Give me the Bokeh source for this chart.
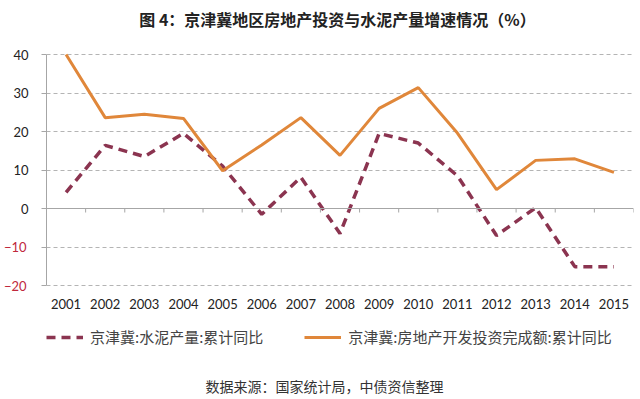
from bokeh.plotting import figure
from bokeh.models import Range1d, FixedTicker, LinearAxis, Legend, LegendItem, Label, ColumnDataSource, Span
from bokeh.embed import file_html
from bokeh.resources import INLINE

years = ["2001", "2002", "2003", "2004", "2005", "2006", "2007", "2008",
         "2009", "2010", "2011", "2012", "2013", "2014", "2015"]
cement = [4.2, 16.4, 13.5, 19.5, 11.0, -1.5, 8.1, -6.5, 19.5, 17.0, 8.5, -7.0, 0.2, -15.1, -15.1]
investment = [40.0, 23.6, 24.5, 23.4, 9.8, 16.5, 23.6, 13.8, 26.0, 31.4, 19.6, 4.9, 12.5, 12.9, 9.4]
y_ticks = [-20, -10, 0, 10, 20, 30, 40]
series_names = ["京津冀:水泥产量:累计同比", "京津冀:房地产开发投资完成额:累计同比"]
title_text = "图 4：京津冀地区房地产投资与水泥产量增速情况（%）"
source_text = "数据来源：国家统计局，中债资信整理"

CJK = "Noto Sans CJK SC"
NUM = "Lato"
GRAY = "#A6A6A6"
C_CEMENT = "#8B3450"
C_INV = "#E0873A"
NEG_RED = "#C0283C"

# layout (pixels)
W, H = 640, 399
BL, BR = 44, 7
PLOT_TOP, PLOT_BOTTOM = 54, 285   # where the top / bottom gridlines sit

n = len(years)
xs = list(range(1, n + 1))
ymin, ymax = min(y_ticks), max(y_ticks)
ppu = (PLOT_BOTTOM - PLOT_TOP) / (ymax - ymin)
y_lo = ymin - (H - PLOT_BOTTOM) / ppu
y_hi = ymax + PLOT_TOP / ppu

src = ColumnDataSource(dict(x=xs, cement=cement, inv=investment))

p = figure(width=W, height=H, output_backend="svg", toolbar_location=None,
           x_range=Range1d(0.5, n + 0.5), y_range=Range1d(y_lo, y_hi),
           min_border_left=BL, min_border_right=BR, min_border_top=0, min_border_bottom=0)
p.outline_line_color = None
p.background_fill_color = "white"
p.border_fill_color = "white"

# grid
p.xgrid.visible = False
p.ygrid.ticker = FixedTicker(ticks=y_ticks)
p.ygrid.grid_line_color = "#B4B4B4"
p.ygrid.grid_line_dash = "4 3"
p.ygrid.grid_line_width = 1

# bottom axis with year labels, drawn at the bottom gridline
p.xaxis.fixed_location = ymin
p.xaxis.ticker = FixedTicker(ticks=xs)
p.xaxis.major_label_overrides = {x: y for x, y in zip(xs, years)}
p.xaxis.axis_line_color = None
p.xaxis.major_tick_line_color = None
p.xaxis.major_tick_in = 0
p.xaxis.major_tick_out = 0
p.xaxis.minor_tick_line_color = None
p.xaxis.major_label_standoff = 13
p.xaxis.major_label_text_font = NUM
p.xaxis.major_label_text_font_size = "13px"
p.xaxis.major_label_text_color = "#222222"

# zero line with ticks between categories
p.add_layout(Span(location=0, dimension="width", line_color=GRAY, line_width=1))
tick_len = 4 / ppu
bounds = [i + 0.5 for i in range(n + 1)]
p.segment(x0=bounds, y0=[0] * len(bounds), x1=bounds, y1=[-tick_len] * len(bounds),
          line_color=GRAY, line_width=1)

# y axis (non-negative labels, dark)
p.yaxis.bounds = (ymin, ymax)
p.yaxis.ticker = FixedTicker(ticks=y_ticks)
p.yaxis.major_label_overrides = {t: ("" if t < 0 else str(t)) for t in y_ticks}
p.yaxis.axis_line_color = GRAY
p.yaxis.major_tick_line_color = GRAY
p.yaxis.major_tick_in = 0
p.yaxis.major_tick_out = 5
p.yaxis.minor_tick_line_color = None
p.yaxis.major_label_standoff = 13
p.yaxis.major_label_text_font = NUM
p.yaxis.major_label_text_font_size = "13px"
p.yaxis.major_label_text_color = "#222222"

# negative labels in red: a second left axis pulled back over the first one
neg_axis = LinearAxis(ticker=FixedTicker(ticks=[t for t in y_ticks if t < 0]),
                      axis_line_color=None, major_tick_line_color=None,
                      major_tick_in=0, major_tick_out=0, minor_tick_line_color=None,
                      major_label_standoff=-16, major_label_text_font=NUM,
                      major_label_text_font_size="13px", major_label_text_color=NEG_RED)
p.add_layout(neg_axis, "left")

r1 = p.line("x", "cement", source=src, line_color=C_CEMENT, line_width=3.5, line_dash="9 6")
r2 = p.line("x", "inv", source=src, line_color=C_INV, line_width=3)

legend = Legend(items=[LegendItem(label=series_names[0], renderers=[r1]),
                       LegendItem(label=series_names[1], renderers=[r2])],
                orientation="horizontal", location=(0, H - 347),
                label_text_font=CJK, label_text_font_size="15px", label_text_color="#444444",
                glyph_width=37, glyph_height=18, label_height=18, label_standoff=7,
                spacing=41, padding=0, margin=0, border_line_color=None,
                background_fill_alpha=0)
p.add_layout(legend, "center")

# title and source note
p.add_layout(Label(x=335 - BL, y=H - 18, x_units="screen", y_units="screen", text=title_text,
                   text_align="center", text_baseline="middle", text_font=CJK,
                   text_font_size="16px", text_font_style="bold", text_color="#222222"))
p.add_layout(Label(x=322 - BL, y=H - 385, x_units="screen", y_units="screen", text=source_text,
                   text_align="center", text_baseline="middle", text_font=CJK,
                   text_font_size="14px", text_color="#333333"))

open("out.html", "w").write(file_html(p, INLINE))
